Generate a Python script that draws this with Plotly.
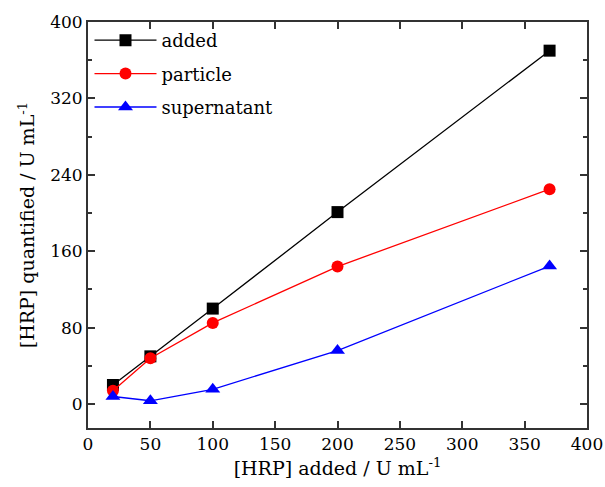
import plotly.graph_objects as go

x_added = [20, 50, 100, 200, 370]
y_added = [20, 50, 100, 201, 370]
y_particle = [14, 48, 85, 144, 225]
y_supernatant = [8, 3.5, 15.5, 56, 144.5]

series = [
    ("added", y_added, "black", "square"),
    ("particle", y_particle, "red", "circle"),
    ("supernatant", y_supernatant, "blue", "triangle-up"),
]

fig = go.Figure()
for name, ys, color, sym in series:
    fig.add_trace(go.Scatter(
        x=x_added, y=ys, name=name, mode="lines+markers", legendgroup=name,
        line=dict(color=color, width=1.3),
        marker=dict(color=color, symbol=sym, size=12 if sym != "triangle-up" else 13),
    ))

font_family = "DejaVu Serif"
axis_common = dict(
    showline=True, linecolor="#333", linewidth=2, mirror="allticks",
    ticks="inside", tickcolor="#333", tickwidth=1.5, ticklen=7,
    showgrid=False, zeroline=False, automargin=False,
    tickfont=dict(family=font_family, size=17, color="black"),
)
fig.update_xaxes(range=[0, 400], dtick=50, tick0=0,
                 title=dict(text="[HRP] added / U mL<sup>-1</sup>",
                            font=dict(family=font_family, size=19, color="black"), standoff=8),
                 **axis_common)
fig.update_yaxes(range=[-25, 400], dtick=80, tick0=0,
                 minor=dict(dtick=40, tick0=0, ticks="inside", ticklen=4, tickcolor="#333", tickwidth=1.5),
                 title=dict(text="[HRP] quantified / U mL<sup>-1</sup>",
                            font=dict(family=font_family, size=19, color="black"), standoff=10),
                 **axis_common)

fig.update_layout(
    width=605, height=487,
    margin=dict(l=88, r=18, t=22, b=59),
    plot_bgcolor="white", paper_bgcolor="white",
    font=dict(family=font_family, color="black"),
    legend=dict(x=0.003, y=1.0, xanchor="left", yanchor="top",
                font=dict(family=font_family, size=18, color="black"),
                bgcolor="rgba(0,0,0,0)", itemwidth=62, tracegroupgap=7),
    showlegend=True,
)
fig.write_html("out.html")
